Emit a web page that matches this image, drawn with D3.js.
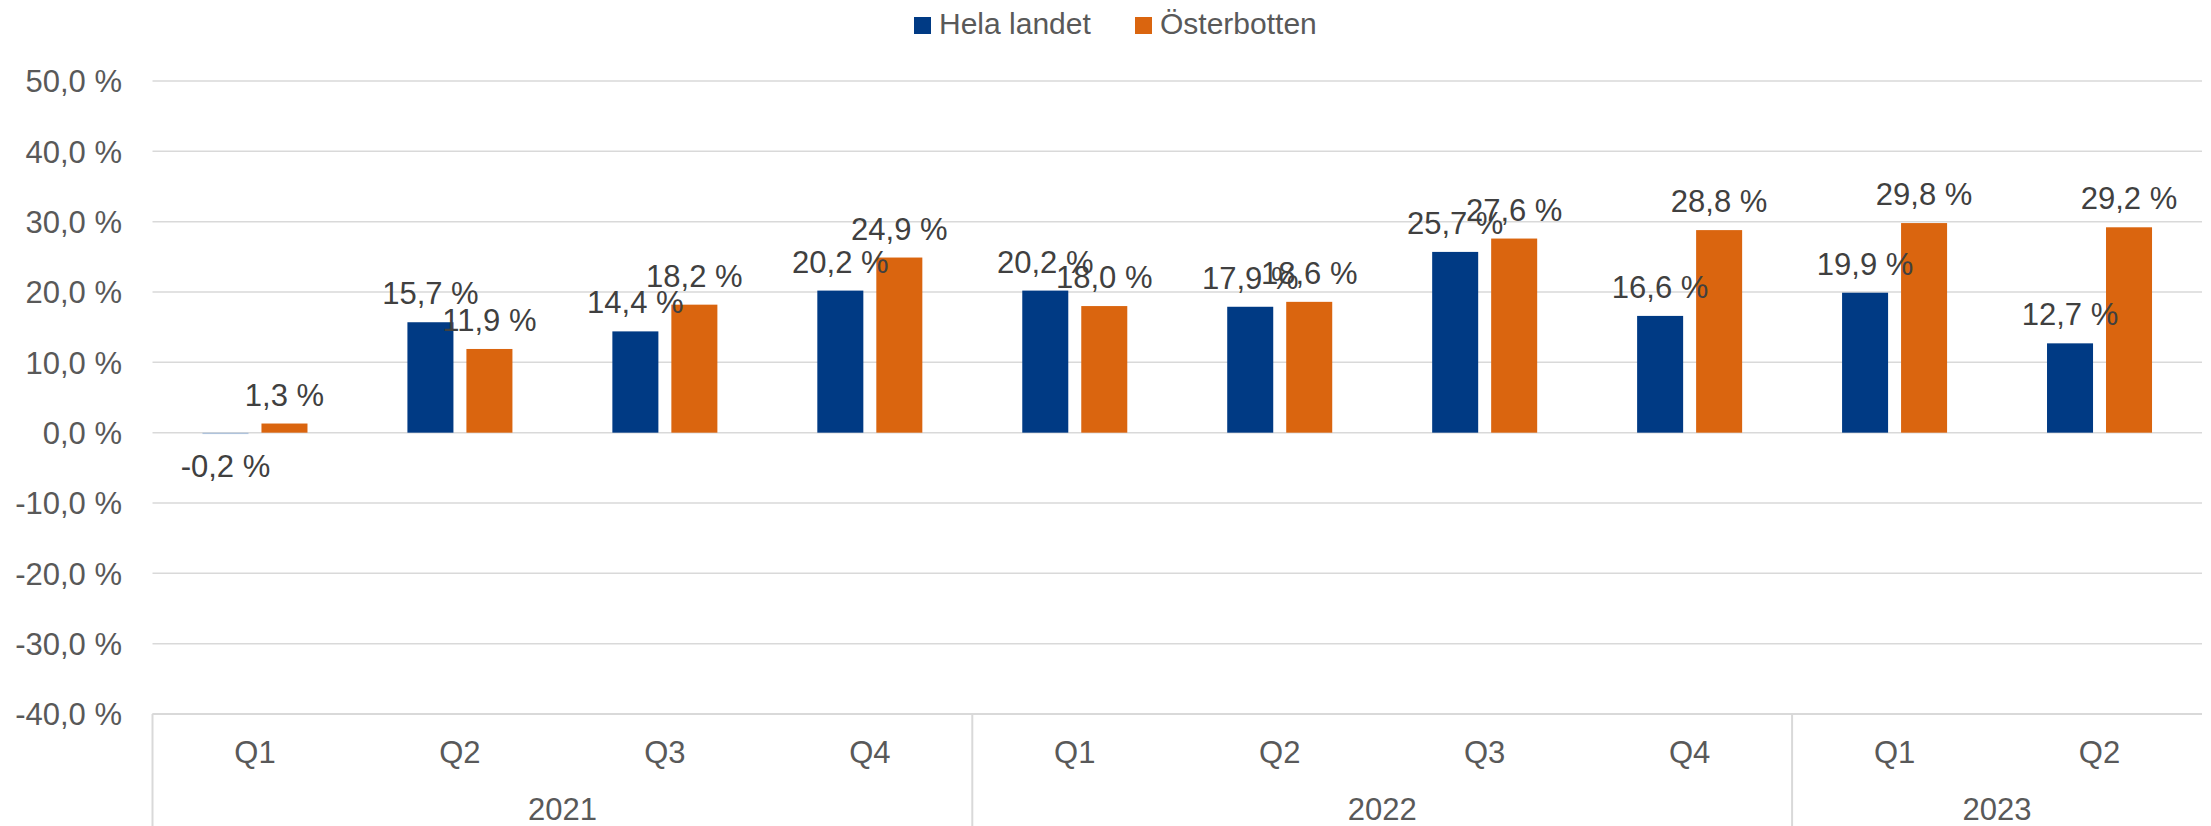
<!DOCTYPE html>
<html>
<head>
<meta charset="utf-8">
<script src="https://cdnjs.cloudflare.com/ajax/libs/d3/7.8.5/d3.min.js"></script>
<style>
body { margin: 0; background: #fff; }
text { font-family: "Liberation Sans", Arial, sans-serif; }
</style>
</head>
<body>
<svg width="2211" height="826"></svg>
<script>
// data
var periods = ["2021 Q1", "2021 Q2", "2021 Q3", "2021 Q4", "2022 Q1", "2022 Q2", "2022 Q3", "2022 Q4", "2023 Q1", "2023 Q2"];
var quarters = ["Q1", "Q2", "Q3", "Q4", "Q1", "Q2", "Q3", "Q4", "Q1", "Q2"];
var years = ["2021", "2022", "2023"];
var yearSpans = [4, 4, 2];
var seriesNames = ["Hela landet", "Österbotten"];
var helaLandet = [-0.2, 15.7, 14.4, 20.2, 20.2, 17.9, 25.7, 16.6, 19.9, 12.7];
var osterbotten = [1.3, 11.9, 18.2, 24.9, 18.0, 18.6, 27.6, 28.8, 29.8, 29.2];
var yTicks = [50, 40, 30, 20, 10, 0, -10, -20, -30, -40];

var colors = ["#003A84", "#DA650F"];

// select svg
var svg = d3.select("svg"),
margin = {top: 81, bottom: 112, left: 152.5, right: 9},
width = +svg.attr("width") - margin.left - margin.right,
height = +svg.attr("height") - margin.top - margin.bottom;

var fmt = function(v) { return v.toFixed(1).replace(".", ",") + " %"; };

// scales
var x = d3.scaleBand().domain(periods).range([margin.left, margin.left + width]);
var x1 = d3.scaleBand().domain(seriesNames).range([0, x.bandwidth()])
  .paddingInner(0.22).paddingOuter(0.847);
var y = d3.scaleLinear().domain([-40, 50]).range([margin.top + height, margin.top]);

// gridlines
svg.append("g")
  .selectAll("line")
  .data(yTicks)
  .enter().append("line")
    .attr("x1", margin.left)
    .attr("x2", margin.left + width)
    .attr("y1", function(d) { return y(d); })
    .attr("y2", function(d) { return y(d); })
    .style("stroke", "#D9D9D9")
    .style("stroke-width", 1.5);

// y axis labels
var yAxis = svg.append("g")
  .attr("transform", "translate(122,0)")
  .call(d3.axisLeft(y).tickValues(yTicks).tickSize(0).tickPadding(0).tickFormat(fmt));
yAxis.select(".domain").remove();
yAxis.selectAll("text")
  .attr("dy", "0.35em")
  .style("font-size", "31px")
  .style("fill", "#595959");

// bars
var rows = periods.map(function(p, i) { return {period: p, values: [helaLandet[i], osterbotten[i]]}; });

var groups = svg.append("g")
  .selectAll("g")
  .data(rows)
  .enter().append("g")
    .attr("transform", function(d) { return "translate(" + x(d.period) + ",0)"; });

groups.selectAll("rect")
  .data(function(d) { return d.values.map(function(v, j) { return {name: seriesNames[j], value: v, j: j}; }); })
  .enter().append("rect")
    .attr("x", function(d) { return x1(d.name); })
    .attr("width", x1.bandwidth())
    .attr("y", function(d) { return y(Math.max(0, d.value)); })
    .attr("height", function(d) { return Math.abs(y(d.value) - y(0)); })
    .style("fill", function(d) { return d.value < 0 ? "#AFC3DC" : colors[d.j]; });

// data labels
groups.selectAll("text")
  .data(function(d) { return d.values.map(function(v, j) { return {name: seriesNames[j], value: v}; }); })
  .enter().append("text")
    .attr("x", function(d) { return x1(d.name) + x1.bandwidth() / 2; })
    .attr("y", function(d) { return d.value >= 0 ? y(d.value) - 18 : y(d.value) + 43; })
    .attr("text-anchor", "middle")
    .style("font-size", "31px")
    .style("fill", "#404040")
    .text(function(d) { return fmt(d.value); });

// category axis box
var axisTop = y(-40);
svg.append("line")
  .attr("x1", margin.left).attr("x2", margin.left + width)
  .attr("y1", axisTop).attr("y2", axisTop)
  .style("stroke", "#D9D9D9").style("stroke-width", 2);

// quarter labels
svg.append("g")
  .selectAll("text")
  .data(periods)
  .enter().append("text")
    .attr("x", function(d) { return x(d) + x.bandwidth() / 2; })
    .attr("y", 763)
    .attr("text-anchor", "middle")
    .style("font-size", "31px")
    .style("fill", "#595959")
    .text(function(d, i) { return quarters[i]; });

// year labels and separators
var start = 0;
var yearData = years.map(function(yr, i) {
  var o = {year: yr, first: periods[start], last: periods[start + yearSpans[i] - 1]};
  start += yearSpans[i];
  return o;
});

var yg = svg.append("g");
yg.selectAll("line")
  .data(yearData)
  .enter().append("line")
    .attr("x1", function(d) { return x(d.first); })
    .attr("x2", function(d) { return x(d.first); })
    .attr("y1", axisTop).attr("y2", 826)
    .style("stroke", "#D9D9D9").style("stroke-width", 2);
yg.selectAll("text")
  .data(yearData)
  .enter().append("text")
    .attr("x", function(d) { return (x(d.first) + x(d.last) + x.bandwidth()) / 2; })
    .attr("y", 820)
    .attr("text-anchor", "middle")
    .style("font-size", "31px")
    .style("fill", "#595959")
    .text(function(d) { return d.year; });

// legend
var legendX = [914, 1135];
var legend = svg.append("g")
  .selectAll("g")
  .data(seriesNames)
  .enter().append("g")
    .attr("transform", function(d, i) { return "translate(" + legendX[i] + ",0)"; });
legend.append("rect")
  .attr("y", 17).attr("width", 17).attr("height", 17)
  .style("fill", function(d, i) { return colors[i]; });
legend.append("text")
  .attr("x", 25).attr("y", 34)
  .style("font-size", "30px")
  .style("fill", "#595959")
  .text(function(d) { return d; });
</script>
</body>
</html>
